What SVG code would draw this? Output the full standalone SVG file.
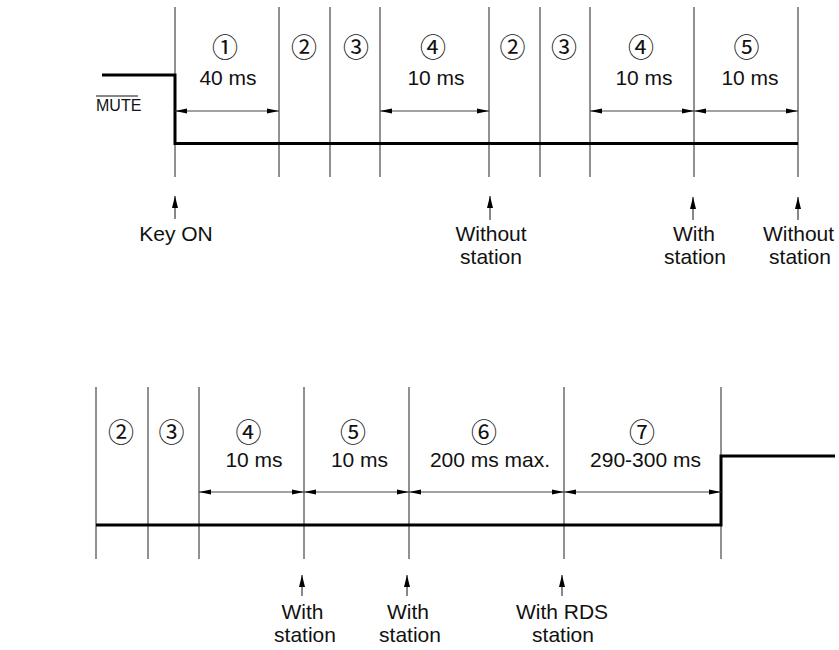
<svg xmlns="http://www.w3.org/2000/svg" width="839" height="650" viewBox="0 0 839 650">
  <style>
    .grid { stroke: #222; stroke-width: 1; fill: none; }
    .sig { stroke: #000; stroke-width: 3; fill: none; }
    .dim { stroke: #444; stroke-width: 1; fill: none; marker-start: url(#dimHead); marker-end: url(#dimHead); }
    .up { stroke: #111; stroke-width: 1; fill: none; marker-end: url(#upHead); }
    .t { font-family: "Liberation Sans", Arial, sans-serif; font-size: 21px; fill: #111; text-anchor: middle; }
    .c { font-family: "Noto Sans CJK JP", "DejaVu Sans", sans-serif; font-size: 26px; fill: #111; text-anchor: middle; dominant-baseline: central; }
  </style>
  <defs>
    <marker id="dimHead" viewBox="0 0 12 6" refX="12" refY="3" markerWidth="12" markerHeight="6" markerUnits="userSpaceOnUse" orient="auto-start-reverse">
      <path d="M0,0.6 L12,3 L0,5.4 Z" fill="#000"/>
    </marker>
    <marker id="upHead" viewBox="0 0 12 6" refX="12" refY="3" markerWidth="12" markerHeight="6" markerUnits="userSpaceOnUse" orient="auto">
      <path d="M0,0 L12,3 L0,6 Z" fill="#000"/>
    </marker>
  </defs>

  <g id="top-grid">
    <line class="grid" x1="175" y1="7" x2="175" y2="177"/>
    <line class="grid" x1="279" y1="7" x2="279" y2="177"/>
    <line class="grid" x1="330" y1="7" x2="330" y2="177"/>
    <line class="grid" x1="380" y1="7" x2="380" y2="177"/>
    <line class="grid" x1="489" y1="7" x2="489" y2="177"/>
    <line class="grid" x1="540" y1="7" x2="540" y2="177"/>
    <line class="grid" x1="590" y1="7" x2="590" y2="177"/>
    <line class="grid" x1="694" y1="7" x2="694" y2="177"/>
    <line class="grid" x1="798" y1="7" x2="798" y2="177"/>
  </g>

  <g id="mute-label">
    <text class="t" x="96" y="111" style="text-anchor:start;font-size:16px">MUTE</text>
    <line x1="96" y1="96" x2="138" y2="96" stroke="#111" stroke-width="1"/>
  </g>

  <g id="top-signal">
    <path class="sig" d="M102,75 H175 V143.5 H798"/>
  </g>

  <g id="top-labels">
    <text class="c" x="225" y="45">①</text>
    <text class="c" x="304" y="45">②</text>
    <text class="c" x="356" y="45">③</text>
    <text class="c" x="433" y="45">④</text>
    <text class="c" x="512.5" y="45">②</text>
    <text class="c" x="564" y="45">③</text>
    <text class="c" x="641" y="45">④</text>
    <text class="c" x="746.5" y="45">⑤</text>
    <text class="t" x="228" y="85">40 ms</text>
    <text class="t" x="436" y="85">10 ms</text>
    <text class="t" x="644" y="85">10 ms</text>
    <text class="t" x="750" y="85">10 ms</text>
  </g>

  <g id="top-events">
    <text class="t" x="176" y="240.5">Key ON</text>
    <text class="t" x="491" y="240.5">Without</text>
    <text class="t" x="491" y="263.5">station</text>
    <text class="t" x="694" y="240.5">With</text>
    <text class="t" x="695" y="263.5">station</text>
    <text class="t" x="798.5" y="240.5">Without</text>
    <text class="t" x="800" y="263.5">station</text>
  </g>

  <g id="bottom-grid">
    <line class="grid" x1="96" y1="387" x2="96" y2="559"/>
    <line class="grid" x1="148" y1="387" x2="148" y2="559"/>
    <line class="grid" x1="199" y1="387" x2="199" y2="559"/>
    <line class="grid" x1="304" y1="387" x2="304" y2="559"/>
    <line class="grid" x1="409" y1="387" x2="409" y2="559"/>
    <line class="grid" x1="564" y1="387" x2="564" y2="559"/>
    <line class="grid" x1="721" y1="387" x2="721" y2="559"/>
  </g>

  <g id="bottom-signal">
    <path class="sig" d="M96,525 H721 V456 H835"/>
  </g>

  <g id="bottom-labels">
    <text class="c" x="121" y="430">②</text>
    <text class="c" x="171.5" y="430">③</text>
    <text class="c" x="248.5" y="430">④</text>
    <text class="c" x="353" y="430">⑤</text>
    <text class="c" x="484" y="430">⑥</text>
    <text class="c" x="642" y="430">⑦</text>
    <text class="t" x="254" y="467">10 ms</text>
    <text class="t" x="359.5" y="467">10 ms</text>
    <text class="t" x="490" y="467">200 ms max.</text>
    <text class="t" x="645.5" y="467">290-300 ms</text>
  </g>

  <g id="bottom-events">
    <text class="t" x="302.5" y="619">With</text>
    <text class="t" x="305" y="642">station</text>
    <text class="t" x="408" y="619">With</text>
    <text class="t" x="410" y="642">station</text>
    <text class="t" x="562" y="619">With RDS</text>
    <text class="t" x="563" y="642">station</text>
  </g>

  <g id="connectors">
    <line class="dim" x1="175" y1="111" x2="279" y2="111"/>
    <line class="dim" x1="380" y1="111" x2="489" y2="111"/>
    <line class="dim" x1="590" y1="111" x2="694" y2="111"/>
    <line class="dim" x1="694" y1="111" x2="798" y2="111"/>
    <line class="dim" x1="199" y1="492" x2="304" y2="492"/>
    <line class="dim" x1="304" y1="492" x2="409" y2="492"/>
    <line class="dim" x1="409" y1="492" x2="564" y2="492"/>
    <line class="dim" x1="564" y1="492" x2="721" y2="492"/>
    <line class="up" x1="175" y1="219" x2="175" y2="196"/>
    <line class="up" x1="490" y1="220" x2="490" y2="196"/>
    <line class="up" x1="693" y1="220" x2="693" y2="197"/>
    <line class="up" x1="798" y1="220" x2="798" y2="197"/>
    <line class="up" x1="302" y1="596" x2="302" y2="575"/>
    <line class="up" x1="407" y1="596" x2="407" y2="575"/>
    <line class="up" x1="562" y1="596" x2="562" y2="575"/>
  </g>
</svg>
